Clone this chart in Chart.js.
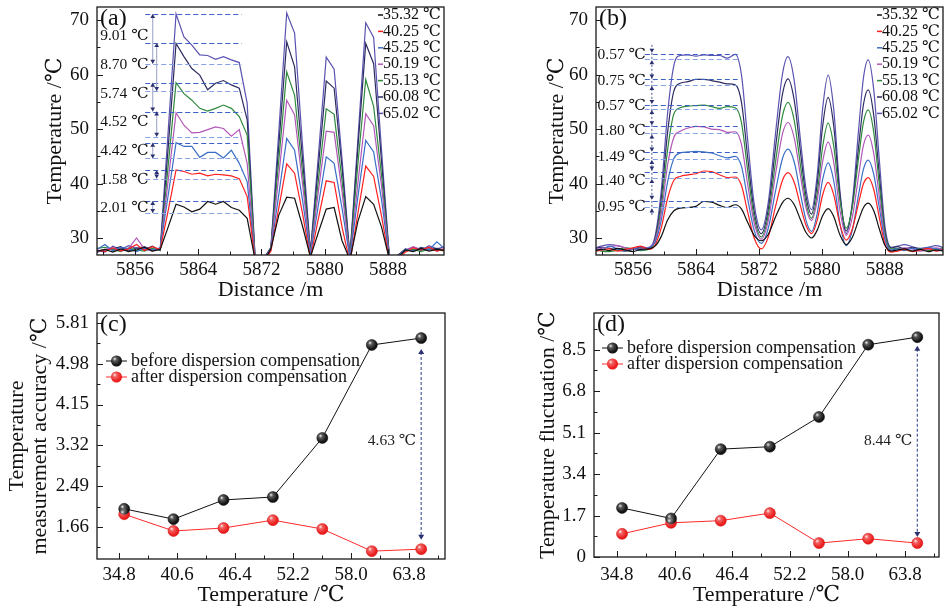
<!DOCTYPE html>
<html>
<head>
<meta charset="utf-8">
<title>Temperature profiles before and after dispersion compensation</title>
<script src="https://cdn.jsdelivr.net/npm/chart.js@4.4.1/dist/chart.umd.min.js"></script>
<style>
body{margin:0;background:#fff;}
#page{position:relative;width:947px;height:610px;overflow:hidden;}
canvas{position:absolute;}
</style>
</head>
<body>
<div id="page">
<canvas id="profileRaw" width="460" height="305" style="left:0;top:0"></canvas>
<canvas id="profileComp" width="447" height="305" style="left:500px;top:0"></canvas>
<canvas id="accuracy" width="460" height="305" style="left:0;top:305px"></canvas>
<canvas id="fluctuation" width="447" height="305" style="left:500px;top:305px"></canvas>
</div>
<script>
const FONT = '"Liberation Serif", "DejaVu Serif", serif';

// (a) raw profiles, one sample per metre
const distRaw = [5851.2,5852.2,5853.2,5854.2,5855.2,5856.2,5857.2,5858.2,5859.2,5860.2,5861.2,5862.2,5863.2,5864.2,5865.2,5866.2,5867.2,5868.2,5869.2,5870.2,5871.2,5872.2,5873.2,5874.2,5875.2,5876.2,5877.2,5878.2,5879.2,5880.2,5881.2,5882.2,5883.2,5884.2,5885.2,5886.2,5887.2,5888.2,5889.2,5890.2,5891.2,5892.2,5893.2,5894.2,5895.2];
const raw3532 = [27.6,27.9,27.4,28.0,27.5,27.8,28.3,27.6,27.9,32.0,36.2,35.7,34.8,35.3,36.7,36.2,36.7,35.6,35.1,33.6,26.0,25.5,28.0,34.2,37.5,37.3,32.2,26.5,31.0,35.3,35.6,29.5,26.0,33.0,37.6,36.2,32.0,26.0,26.3,27.8,27.5,28.1,27.6,27.9,27.7];
const raw4025 = [27.8,27.5,28.2,27.6,28.0,28.8,27.7,28.4,27.9,35.0,42.5,42.2,41.7,41.9,41.4,41.7,41.6,41.4,40.9,37.6,25.8,25.3,27.6,35.5,43.6,41.9,34.5,26.2,33.5,40.5,40.2,32.0,25.5,34.5,43.2,41.3,34.0,25.8,26.0,27.4,28.2,27.8,28.3,27.6,28.0];
const raw4525 = [27.9,28.8,27.6,28.3,28.0,27.5,28.1,27.8,28.2,37.8,47.5,46.8,46.8,44.8,45.7,45.7,44.7,46.1,43.7,40.3,26.0,25.6,27.8,38.0,48.3,46.1,37.0,26.8,36.0,44.9,43.7,35.5,26.2,37.5,47.9,45.8,37.0,26.0,26.4,27.9,27.6,28.2,27.8,29.3,28.0];
const raw5019 = [27.5,27.9,28.2,27.7,28.1,30.0,28.0,27.6,28.0,40.5,53.0,50.7,49.3,49.4,49.9,50.4,50.1,48.7,49.9,43.7,26.2,25.7,28.0,41.5,55.3,52.6,40.0,27.0,38.5,49.6,49.4,38.5,26.3,40.0,52.8,50.6,39.5,26.1,26.5,27.7,28.4,27.9,28.2,27.6,28.1];
const raw5513 = [28.1,28.3,27.9,27.5,28.2,27.8,27.6,28.1,27.8,43.2,58.5,56.5,55.3,53.8,53.3,53.8,54.4,53.8,52.3,48.9,26.3,25.8,28.1,44.3,60.5,56.2,42.0,27.1,40.5,53.7,52.7,40.5,26.4,43.5,59.1,54.1,41.5,26.2,26.6,27.6,27.9,27.5,28.0,27.8,27.6];
const raw6008 = [27.4,27.8,28.0,28.4,27.6,28.2,27.9,28.5,27.7,46.5,65.7,63.3,61.1,59.9,57.2,58.4,58.9,58.1,57.5,51.7,26.4,25.9,28.2,47.0,66.0,61.4,44.5,27.3,43.0,58.8,57.5,43.0,26.5,46.5,65.7,62.0,44.0,26.3,26.7,28.0,27.6,28.3,27.9,28.1,27.8];
const raw6502 = [27.7,27.4,28.5,27.9,28.6,28.1,28.4,27.8,28.1,49.5,71.1,66.9,65.4,63.6,63.5,62.8,63.3,62.7,62.2,54.7,26.5,26.0,28.3,49.5,71.3,67.6,47.0,27.4,45.0,63.2,61.0,44.5,26.6,48.0,69.5,66.8,46.0,26.4,26.8,27.8,28.3,27.7,28.6,28.0,28.4];

// (b) compensated profiles
const distComp = [5851,5852,5853,5854,5855,5856,5857,5858,5858.8,5859.6,5860.4,5861.2,5862,5863,5864,5865,5866,5867,5868,5869,5869.8,5870.6,5871.4,5872.3,5873.2,5874.1,5875,5875.7,5876.5,5877.3,5878,5878.7,5879.4,5880.1,5880.8,5881.5,5882.3,5883.1,5883.9,5884.7,5885.3,5885.9,5886.6,5887.3,5888,5888.8,5889.6,5890.5,5891.5,5892.5,5893.5,5894.5,5895.5];
const comp3532 = [27.6,27.9,27.7,28.1,27.8,27.5,27.9,28.0,28.5,30.3,33.3,35.0,35.5,35.6,35.8,36.7,36.6,36.0,35.6,36.1,35.3,32.8,30.5,29.5,30.7,33.8,36.5,37.3,36.1,33.3,31.0,30.0,31.4,34.1,35.4,34.0,30.6,28.8,30.2,33.4,35.6,36.4,35.0,31.7,28.7,27.6,27.8,28.0,27.6,27.9,27.5,27.8,27.6];
const comp4025 = [27.5,27.8,28.0,27.6,27.9,28.2,28.5,27.9,28.7,31.9,37.3,40.6,41.3,41.6,41.8,42.3,42.2,41.6,41.1,41.2,39.6,34.6,30.0,28.0,30.2,35.7,40.6,42.0,40.2,35.8,32.3,30.8,33.2,37.9,40.2,38.0,32.5,29.6,31.8,36.6,40.0,41.1,38.9,33.8,29.0,27.4,27.6,27.9,27.5,27.8,28.1,27.6,27.9];
const comp4525 = [28.2,27.8,28.5,28.0,27.7,28.1,27.8,28.2,29.2,33.3,40.3,44.6,45.6,45.8,45.9,45.8,45.6,45.1,44.7,45.0,43.1,37.0,31.4,29.0,31.8,38.5,44.6,46.3,43.9,38.0,33.2,31.2,34.4,40.7,43.8,40.6,32.7,28.6,31.6,38.2,42.7,44.3,41.7,35.6,29.8,27.8,28.0,27.7,28.1,27.9,28.3,28.0,27.7];
const comp5019 = [27.8,28.1,28.4,28.6,28.2,27.9,28.0,28.3,29.5,34.6,43.4,48.5,49.6,50.2,50.5,50.4,50.0,49.9,49.4,49.5,47.1,39.6,32.8,29.8,33.2,41.6,49.1,51.2,48.3,41.3,35.5,33.2,36.8,44.0,47.6,44.0,35.1,30.5,34.0,41.7,47.1,48.9,45.5,37.6,30.2,27.6,27.8,28.2,28.0,27.6,27.9,28.2,27.8];
const comp5513 = [27.9,27.6,27.5,27.8,28.2,28.0,27.7,27.9,29.5,35.8,46.2,52.8,53.9,54.2,54.3,54.4,54.1,53.8,54.1,53.9,51.1,42.1,33.8,30.2,34.2,43.8,52.4,54.9,51.5,43.2,36.4,33.6,38.0,46.7,51.1,47.0,37.0,31.8,35.9,45.0,51.3,53.5,49.4,39.9,31.0,28.0,28.1,27.8,27.6,28.0,27.7,27.9,28.2];
const comp6008 = [28.0,28.3,28.1,27.8,27.6,27.9,28.2,28.0,29.8,37.2,49.4,57.0,58.4,58.7,59.1,59.1,58.9,58.6,58.3,58.1,54.8,44.5,34.9,30.8,35.3,46.4,56.4,59.2,55.2,45.6,37.6,34.4,39.8,50.5,55.8,50.7,37.9,31.3,36.2,47.1,54.6,57.2,52.5,41.7,31.5,28.2,28.4,28.0,28.3,27.9,28.1,27.7,28.0];
const comp6502 = [28.1,28.5,28.8,28.6,28.2,28.0,28.4,28.2,30.3,38.8,52.9,61.7,63.5,63.6,63.4,63.6,63.5,63.5,63.0,63.7,59.8,47.6,36.3,31.5,36.6,49.0,60.1,63.3,58.8,47.8,38.9,35.2,41.4,53.7,59.9,53.8,38.7,30.8,36.9,50.3,59.5,62.7,57.2,44.5,32.4,28.3,28.5,28.8,28.4,28.1,28.3,28.6,28.2];

const setTemps = ['35.32 ℃','40.25 ℃','45.25 ℃','50.19 ℃','55.13 ℃','60.08 ℃','65.02 ℃'];
const setColors = ['#111111','#ff1f1f','#3a6ec6','#b257b8','#2f8a3c','#2c2c60','#5a52b0'];

// max / min plateau levels marked by the dashed lines
const rawBands = [[71.1,62.0],[65.8,57.0],[58.5,53.2],[53.2,48.6],[47.5,44.6],[42.5,40.9],[36.8,34.6]];
const rawBandText = ['9.01 ℃','8.70 ℃','5.74 ℃','4.52 ℃','4.42 ℃','1.58 ℃','2.01 ℃'];
const compBands = [[63.8,62.8],[59.1,58.1],[54.4,53.7],[50.5,49.2],[45.7,44.5],[42.2,41.0],[36.85,35.6]];
const compBandText = ['0.57 ℃','0.75 ℃','0.57 ℃','1.80 ℃','1.49 ℃','1.40 ℃','0.95 ℃'];

const distTicks = [5856,5864,5872,5880,5888];
const distMinor = [5852,5860,5868,5876,5884,5892];
const profTicks = [30,40,50,60,70];
const profMinor = [35,45,55,65];

// (c), (d)
const setPoint = [35.32,40.25,45.25,50.19,55.13,60.08,65.02];
const accBefore = [2.03,1.82,2.21,2.27,3.47,5.36,5.50];
const accAfter = [1.92,1.58,1.64,1.80,1.62,1.17,1.21];
const flucBefore = [2.01,1.58,4.42,4.52,5.74,8.70,9.01];
const flucAfter = [0.95,1.40,1.49,1.80,0.57,0.75,0.57];
const compNames = ['before dispersion compensation','after dispersion compensation'];
const tempTicks = [34.8,40.6,46.4,52.2,58.0,63.8];
const tempMinor = [37.7,43.5,49.3,55.1,60.9,66.7];
const accTicks = [1.66,2.49,3.32,4.15,4.98,5.81];
const accMinor = [1.245,2.075,2.905,3.735,4.565,5.395];
const flucTicks = [0,1.7,3.4,5.1,6.8,8.5];
const flucMinor = [0.85,2.55,4.25,5.95,7.65,9.35];

Chart.defaults.font.family = FONT;

function txt(ctx, s, x, y, size, align, color) {
  ctx.font = size + 'px ' + FONT;
  ctx.fillStyle = color || '#111';
  ctx.textAlign = align || 'left';
  ctx.textBaseline = 'middle';
  ctx.fillText(s, x, y);
}

function head(ctx, x, y, dir, s) {
  ctx.beginPath();
  ctx.moveTo(x, y);
  ctx.lineTo(x - s * 0.6, y - dir * s);
  ctx.lineTo(x + s * 0.6, y - dir * s);
  ctx.closePath();
  ctx.fill();
}

// frame, inward ticks, panel tag
function decor(tag, xMajor, xMinor, yMajor, yMinor) {
  return {
    id: 'decor',
    afterDraw(chart) {
      const { ctx, chartArea: a } = chart;
      const sx = chart.scales.x, sy = chart.scales.y;
      ctx.save();
      ctx.strokeStyle = '#1a1a1a';
      ctx.lineWidth = 1.3;
      ctx.strokeRect(a.left, a.top, a.right - a.left, a.bottom - a.top);
      ctx.lineWidth = 1;
      const mark = (vals, len, horiz) => vals.forEach(v => {
        const p = Math.round((horiz ? sx : sy).getPixelForValue(v)) + 0.5;
        ctx.beginPath();
        if (horiz) { ctx.moveTo(p, a.bottom); ctx.lineTo(p, a.bottom - len); }
        else { ctx.moveTo(a.left, p); ctx.lineTo(a.left + len, p); }
        ctx.stroke();
      });
      mark(xMajor, 6, true); mark(xMinor, 3.5, true);
      mark(yMajor, 6, false); mark(yMinor, 3.5, false);
      txt(ctx, tag, a.left + 3, a.top + 12, 24);
      ctx.restore();
    }
  };
}

const setLegend = {
  id: 'setLegend',
  afterDraw(chart) {
    const { ctx, chartArea: a } = chart;
    ctx.save();
    setTemps.forEach((n, i) => {
      const y = a.top + 8 + i * 16.4;
      ctx.strokeStyle = setColors[i];
      ctx.lineWidth = 1.5;
      ctx.beginPath(); ctx.moveTo(a.right - 66, y); ctx.lineTo(a.right - 61, y); ctx.stroke();
      txt(ctx, n, a.right - 61, y, 16);
    });
    ctx.restore();
  }
};

function bandMarks(bands, texts, c) {
  return {
    id: 'bandMarks',
    afterDatasetsDraw(chart) {
      const { ctx } = chart, sx = chart.scales.x, sy = chart.scales.y;
      const x1 = sx.getPixelForValue(c.from), x2 = sx.getPixelForValue(c.to);
      ctx.save();
      ctx.lineWidth = 1.1;
      ctx.setLineDash([5, 3]);
      bands.forEach(pair => pair.forEach((v, j) => {
        const y = Math.round(sy.getPixelForValue(v)) + 0.5;
        ctx.strokeStyle = j ? '#86a2e2' : '#3d60c4';
        ctx.beginPath(); ctx.moveTo(x1, y); ctx.lineTo(x2, y); ctx.stroke();
      }));
      ctx.fillStyle = '#2b3170';
      if (c.inward) {
        const ax = sx.getPixelForValue(c.arrowX[0]);
        ctx.setLineDash([2, 2]);
        ctx.strokeStyle = '#5a64a0';
        ctx.beginPath();
        ctx.moveTo(ax, sy.getPixelForValue(bands[0][0]) - 9);
        ctx.lineTo(ax, sy.getPixelForValue(bands[bands.length - 1][1]) + 9);
        ctx.stroke();
        bands.forEach(pair => {
          head(ctx, ax, sy.getPixelForValue(pair[0]) - 1, 1, 4);
          head(ctx, ax, sy.getPixelForValue(pair[1]) + 1, -1, 4);
        });
      } else {
        ctx.setLineDash([]);
        ctx.strokeStyle = '#a3a8c8';
        bands.forEach((pair, i) => {
          const ax = sx.getPixelForValue(c.arrowX[i % c.arrowX.length]);
          const y1 = sy.getPixelForValue(pair[0]), y2 = sy.getPixelForValue(pair[1]);
          ctx.beginPath(); ctx.moveTo(ax, y1); ctx.lineTo(ax, y2); ctx.stroke();
          head(ctx, ax, y1, -1, 4);
          head(ctx, ax, y2, 1, 4);
        });
      }
      texts.forEach((t, i) => txt(ctx, t, sx.getPixelForValue(c.labelX), sy.getPixelForValue(c.labelY[i]), 15.5));
      ctx.restore();
    }
  };
}

function gapArrow(x, top, bottom, text, textY) {
  return {
    id: 'gapArrow',
    afterDatasetsDraw(chart) {
      const { ctx } = chart, sx = chart.scales.x, sy = chart.scales.y;
      const px = sx.getPixelForValue(x), y1 = sy.getPixelForValue(top), y2 = sy.getPixelForValue(bottom);
      ctx.save();
      ctx.strokeStyle = '#4d5a9a';
      ctx.lineWidth = 1.2;
      ctx.setLineDash([3, 2]);
      ctx.beginPath(); ctx.moveTo(px, y1 + 3); ctx.lineTo(px, y2 - 3); ctx.stroke();
      ctx.fillStyle = '#2b3170';
      head(ctx, px, y1, -1, 5);
      head(ctx, px, y2, 1, 5);
      txt(ctx, text, px - 5, sy.getPixelForValue(textY), 15.5, 'right', '#222');
      ctx.restore();
    }
  };
}

function sphere(ctx, x, y, r) {
  const g = ctx.createRadialGradient(x - r * 0.35, y - r * 0.4, 0, x - r * 0.2, y - r * 0.25, r);
  g.addColorStop(0, 'rgba(255,255,255,0.95)');
  g.addColorStop(0.35, 'rgba(255,255,255,0.3)');
  g.addColorStop(1, 'rgba(255,255,255,0)');
  ctx.fillStyle = g;
  ctx.beginPath(); ctx.arc(x, y, r, 0, Math.PI * 2); ctx.fill();
}

const shine = {
  id: 'shine',
  afterDatasetsDraw(chart) {
    const ctx = chart.ctx;
    ctx.save();
    chart.data.datasets.forEach((ds, i) => {
      chart.getDatasetMeta(i).data.forEach(pt => sphere(ctx, pt.x, pt.y, 5.5));
    });
    ctx.restore();
  }
};

function pointLegend(x0, rowY) {
  return {
    id: 'pointLegend',
    afterDraw(chart) {
      const { ctx, chartArea: a } = chart;
      ctx.save();
      chart.data.datasets.forEach((ds, i) => {
        const y = a.top + rowY + i * 16;
        const lx = a.left + x0;
        ctx.strokeStyle = ds.borderColor;
        ctx.lineWidth = 1;
        ctx.beginPath(); ctx.moveTo(lx, y); ctx.lineTo(lx + 21, y); ctx.stroke();
        ctx.fillStyle = ds.pointBackgroundColor;
        ctx.beginPath(); ctx.arc(lx + 10.5, y, 5.5, 0, Math.PI * 2); ctx.fill();
        sphere(ctx, lx + 10.5, y, 5.5);
        txt(ctx, ds.label, lx + 25, y, 18);
      });
      ctx.restore();
    }
  };
}

function axisPair(o) {
  return {
    x: {
      type: 'linear', min: o.xMin, max: o.xMax,
      afterBuildTicks: s => { s.ticks = o.xTicks.map(v => ({ value: v })); },
      afterFit: s => { s.height = o.xH; s.paddingLeft = 0; s.paddingRight = 0; },
      grid: { display: false, drawTicks: false },
      border: { display: false },
      ticks: { autoSkip: false, maxRotation: 0, padding: o.xPad, color: '#111', font: { size: 19 }, callback: o.xFmt },
      title: { display: true, text: o.xTitle, color: '#111', font: { size: 22 }, padding: { top: 0, bottom: 2 } }
    },
    y: {
      type: 'linear', min: o.yMin, max: o.yMax,
      afterBuildTicks: s => { s.ticks = o.yTicks.map(v => ({ value: v })); },
      afterFit: s => { s.width = o.yW; s.paddingTop = 0; s.paddingBottom = 0; },
      grid: { display: false, drawTicks: false },
      border: { display: false },
      ticks: { padding: 8, color: '#111', font: { size: 19 }, callback: o.yFmt },
      title: { display: true, text: o.yTitle, color: '#111', font: { size: 22, lineHeight: 1.05 }, padding: { top: o.yTitlePad, bottom: 0 } }
    }
  };
}

function profileSets(dist, series, smooth) {
  return series.map((vals, i) => ({
    label: setTemps[i],
    data: dist.map((x, j) => ({ x: x, y: vals[j] })),
    borderColor: setColors[i],
    borderWidth: 1.2,
    pointRadius: 0,
    tension: 0,
    cubicInterpolationMode: smooth ? 'monotone' : 'default'
  }));
}

function compSets(before, after) {
  return [
    { label: compNames[0], data: setPoint.map((x, i) => ({ x: x, y: before[i] })),
      borderColor: '#111', borderWidth: 1, pointRadius: 5.5, pointBorderWidth: 0.5,
      pointBackgroundColor: '#141414', pointBorderColor: '#000' },
    { label: compNames[1], data: setPoint.map((x, i) => ({ x: x, y: after[i] })),
      borderColor: '#ff2a2a', borderWidth: 1, pointRadius: 5.5, pointBorderWidth: 0.5,
      pointBackgroundColor: '#ec1f1f', pointBorderColor: '#c00' }
  ];
}

const base = {
  responsive: false,
  animation: false,
  devicePixelRatio: 1,
  plugins: { legend: { display: false }, tooltip: { enabled: false } }
};

const intFmt = v => String(v);

new Chart(document.getElementById('profileRaw'), {
  type: 'line',
  data: { datasets: profileSets(distRaw, [raw3532, raw4025, raw4525, raw5019, raw5513, raw6008, raw6502], false) },
  options: Object.assign({}, base, {
    layout: { padding: { top: 7, right: 16, left: 0, bottom: 0 }, autoPadding: false },
    scales: axisPair({ xMin: 5851.2, xMax: 5895.1, xTicks: distTicks, xH: 50, xPad: 4, xFmt: intFmt, xTitle: 'Distance /m',
      yMin: 26.88, yMax: 72.4, yTicks: profTicks, yW: 97, yFmt: intFmt, yTitle: 'Temperature /℃', yTitlePad: 43.5 })
  }),
  plugins: [bandMarks(rawBands, rawBandText, { from: 5857.3, to: 5869.5, arrowX: [5858.25, 5858.75], labelX: 5851.6,
      labelY: [67.1, 61.7, 56.4, 51.3, 46.0, 40.6, 35.5], inward: false }),
    decor('(a)', distTicks, distMinor, profTicks, profMinor), setLegend]
});

new Chart(document.getElementById('profileComp'), {
  type: 'line',
  data: { datasets: profileSets(distComp, [comp3532, comp4025, comp4525, comp5019, comp5513, comp6008, comp6502], true) },
  options: Object.assign({}, base, {
    layout: { padding: { top: 7, right: 4, left: 0, bottom: 0 }, autoPadding: false },
    scales: axisPair({ xMin: 5851.3, xMax: 5895.4, xTicks: distTicks, xH: 50, xPad: 4, xFmt: intFmt, xTitle: 'Distance /m',
      yMin: 26.88, yMax: 72.4, yTicks: profTicks, yW: 96, yFmt: intFmt, yTitle: 'Temperature /℃', yTitlePad: 45.5 })
  }),
  plugins: [bandMarks(compBands, compBandText, { from: 5857.5, to: 5869.3, arrowX: [5858.4], labelX: 5851.5,
      labelY: [63.6, 58.8, 54.2, 49.6, 44.9, 40.5, 35.7], inward: true }),
    decor('(b)', distTicks, distMinor, profTicks, profMinor), setLegend]
});

new Chart(document.getElementById('accuracy'), {
  type: 'line',
  data: { datasets: compSets(accBefore, accAfter) },
  options: Object.assign({}, base, {
    layout: { padding: { top: 8, right: 15, left: 0, bottom: 0 }, autoPadding: false },
    scales: axisPair({ xMin: 32.6, xMax: 67.4, xTicks: tempTicks, xH: 51, xPad: 5, xFmt: v => v.toFixed(1), xTitle: 'Temperature /℃',
      yMin: 1.01, yMax: 6.01, yTicks: accTicks, yW: 97, yFmt: v => v.toFixed(2),
      yTitle: ['Temperature', 'measurement accuracy /℃'], yTitlePad: 5.5 })
  }),
  plugins: [gapArrow(65.02, 5.28, 1.40, '4.63 ℃', 3.40), shine, decor('(c)', tempTicks, tempMinor, accTicks, accMinor), pointLegend(9, 48)]
});

new Chart(document.getElementById('fluctuation'), {
  type: 'line',
  data: { datasets: compSets(flucBefore, flucAfter) },
  options: Object.assign({}, base, {
    layout: { padding: { top: 8, right: 8, left: 0, bottom: 0 }, autoPadding: false },
    scales: axisPair({ xMin: 32.5, xMax: 67.2, xTicks: tempTicks, xH: 53, xPad: 7, xFmt: v => v.toFixed(1), xTitle: 'Temperature /℃',
      yMin: 0, yMax: 10, yTicks: flucTicks, yW: 94, yFmt: v => (v === 0 ? '0' : v.toFixed(1)),
      yTitle: 'Temperature fluctuation /℃', yTitlePad: 36.5 })
  }),
  plugins: [gapArrow(65.02, 8.66, 0.82, '8.44 ℃', 4.74), shine, decor('(d)', tempTicks, tempMinor, flucTicks, flucMinor), pointLegend(8, 35)]
});
</script>
</body>
</html>
